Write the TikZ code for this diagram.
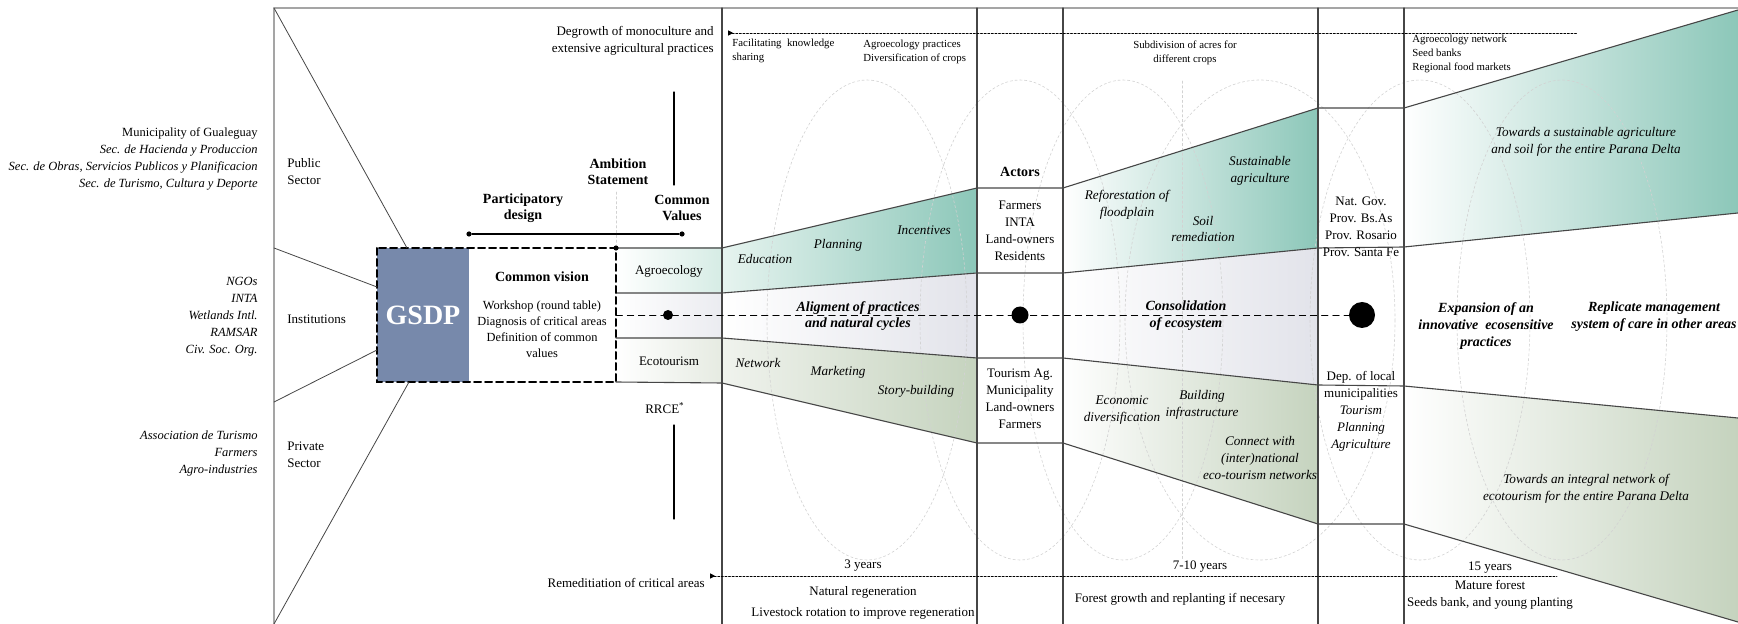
\documentclass[tikz,border=0pt]{standalone}
\usepackage{fontspec}
\setmainfont{Liberation Serif}
\usetikzlibrary{arrows.meta}

\definecolor{gsdpblue}{RGB}{119,137,171}
\definecolor{tealdeep}{RGB}{140,199,185}
\definecolor{tealsoft}{RGB}{214,236,229}
\definecolor{sagedeep}{RGB}{197,211,190}
\definecolor{sagesoft}{RGB}{230,235,226}
\definecolor{mist}{RGB}{226,227,234}
\definecolor{framegray}{RGB}{165,165,165}
\definecolor{rulegray}{RGB}{70,70,70}

\begin{document}
\begin{tikzpicture}[x=0.5pt, y=-0.5pt, line cap=round,
    txt/.style={font=\fontsize{6.5}{8.5}\selectfont, align=center, inner sep=0pt},
    txtit/.style={txt, font=\fontsize{6.6}{8.3}\selectfont\itshape},
    head/.style={txt, font=\fontsize{7}{8.2}\selectfont\bfseries},
    theme/.style={txt, font=\fontsize{7}{8.4}\selectfont\bfseries\itshape},
    note/.style={font=\fontsize{5.4}{7}\selectfont, align=left, inner sep=0pt},
    names/.style={txt, align=right, anchor=east, font=\fontsize{6.25}{8.5}\selectfont\itshape},
    rule/.style={rulegray, line width=0.55pt},
    sector/.style={rulegray, line width=0.4pt},
    loop/.style={gray!35, line width=0.3pt, dash pattern=on 1.2pt off 1.2pt},
    track/.style={black, line width=0.4pt, dash pattern=on 1pt off 0.8pt,
                  arrows={Triangle[reversed, length=2.6pt, width=2.6pt]-}},
    dot/.style={circle, fill=black, inner sep=0pt}]

  % pixel grid of the poster: x to the right, y downwards
  \useasboundingbox (0,0) rectangle (1738,624);

  % shaded fields (phase 1: 722-977, phase 2: 1063-1318, phase 3: 1404-1738)
  \shade[left color=white, right color=tealsoft]
    (616,248) rectangle (722,293);
  \shade[left color=white, right color=mist!70]
    (616,293) rectangle (722,338);
  \shade[left color=white, right color=sagesoft]
    (616,338) rectangle (722,382);

  \shade[left color=tealsoft!60, right color=tealdeep]
    (722,248) -- (977,188) -- (977,273) -- (722,293) -- cycle;
  \shade[left color=white, right color=mist]
    (722,293) -- (977,273) -- (977,358) -- (722,338) -- cycle;
  \shade[left color=sagesoft!60, right color=sagedeep]
    (722,338) -- (977,358) -- (977,443) -- (722,383) -- cycle;

  \shade[left color=white, right color=tealdeep]
    (1063,188) -- (1318,108) -- (1318,248) -- (1063,273) -- cycle;
  \shade[left color=white, right color=mist]
    (1063,273) -- (1318,248) -- (1318,385) -- (1063,358) -- cycle;
  \shade[left color=white, right color=sagedeep]
    (1063,358) -- (1318,385) -- (1318,524) -- (1063,443) -- cycle;

  \shade[left color=white, right color=tealdeep]
    (1404,108) -- (1738,10) -- (1738,213) -- (1404,247) -- cycle;
  \shade[left color=white, right color=sagedeep]
    (1404,386) -- (1738,418) -- (1738,622) -- (1404,524) -- cycle;

  % cycles
  \foreach \cx/\rx in {867/100, 1020/100, 1123/100, 1260/135, 1420/110, 1562/105}
    \draw[loop] (\cx,320) ellipse [x radius=\rx, y radius=240];
  \draw[loop] (1182,81) -- (1182,560);

  % frame and phase columns
  \coordinate (tl) at (274,8);
  \coordinate (bl) at (274,624);
  \draw[framegray, line width=0.7pt] (tl) -- (1738,8);
  \draw[framegray, line width=0.7pt] (tl) -- (bl);
  \foreach \x in {722, 977, 1063, 1318, 1404}
    \draw[rule] (\x,8) -- (\x,624);

  % band outlines
  \draw[rule] (616,248) -- (722,248) -- (977,188) -- (1063,188)
              -- (1318,108) -- (1404,108) -- (1738,10);
  \draw[rule] (616,293) -- (722,293) -- (977,273) -- (1063,273)
              -- (1318,248) -- (1404,247) -- (1738,213);
  \draw[rule] (616,338) -- (722,338) -- (977,358) -- (1063,358)
              -- (1318,385) -- (1404,386) -- (1738,418);
  \draw[rule] (616,382) -- (722,383) -- (977,443) -- (1063,443)
              -- (1318,524) -- (1404,524) -- (1738,622);

  % GSDP block
  \node[fill=gsdpblue, minimum width=46pt, minimum height=67pt, inner sep=0pt,
        text=white, font=\fontsize{14}{16}\selectfont\bfseries] (gsdp) at (423,315) {GSDP};
  \draw[line width=1pt, dash pattern=on 3.5pt off 2pt] (377,248) rectangle (616,382);

  % sector rays into the block
  \coordinate (s1) at (407,248);
  \coordinate (s2) at (377,287);
  \coordinate (s3) at (377,350);
  \coordinate (s4) at (409,382);
  \draw[sector] (tl) -- (s1);
  \draw[sector] (274,248) -- (s2);
  \draw[sector] (274,402) -- (s3);
  \draw[sector] (bl) -- (s4);

  % participatory design bar
  \node[dot, minimum size=2.6pt] (pa) at (469,234) {};
  \node[dot, minimum size=2.6pt] (pb) at (682,234) {};
  \draw[rule, black] (pa) -- (pb);
  \node[dot, minimum size=2.6pt] (c0) at (616,248) {};
  \draw[loop] (616,192) -- (c0);

  % RRCE stems
  \draw[black, line width=0.6pt] (674,92) -- (674,185);
  \draw[black, line width=0.6pt] (674,425) -- (674,519);

  % time line with milestones
  \node[dot, minimum size=5pt]   (d1) at (668,315)  {};
  \node[dot, minimum size=8.5pt] (d2) at (1020,315) {};
  \node[dot, minimum size=13pt]  (d3) at (1362,315) {};
  \coordinate (mstart) at (616,315);
  \draw[black, line width=0.4pt, dash pattern=on 3.2pt off 2.4pt] (mstart) -- (d3);

  % dotted tracks
  \draw[track] (728,33) -- (1577,33);
  \draw[track] (710,576) -- (1557,576);

  % stakeholders
  \node[names] (pubnames) at (258,159)
    {\upshape Municipality of Gualeguay\\ Sec. de Hacienda y Produccion\\
     Sec. de Obras, Servicios Publicos y Planificacion\\
     Sec. de Turismo, Cultura y Deporte};
  \node[names] (instnames) at (258,317)
    {NGOs\\ INTA\\ Wetlands Intl.\\ RAMSAR\\ Civ. Soc. Org.};
  \node[names] (privnames) at (258,453)
    {Association de Turismo\\ Farmers\\ Agro-industries};
  \node[txt, align=left, anchor=west] (public)  at (287,172) {Public\\Sector};
  \node[txt, anchor=west]             (inst)    at (287,319) {Institutions};
  \node[txt, align=left, anchor=west] (private) at (287,455) {Private\\Sector};

  % vision block
  \node[head] (vision) at (542,277) {Common vision};
  \node[txt, font=\fontsize{6.2}{8}\selectfont] (workshop) at (542,329)
    {Workshop (round table)\\Diagnosis of critical areas\\Definition of common\\values};
  \node[head] (ambition) at (618,172) {Ambition\\Statement};
  \node[head] (partic)   at (523,208) {Participatory\\design};
  \node[head] (values)   at (682,208) {Common\\Values};
  \node[txt] (agro) at (669,271) {Agroecology};
  \node[txt] (eco)  at (669,361) {Ecotourism};
  \node[txt] (rrce) at (665,408) {RRCE\textsuperscript{*}};
  \node[txt, align=right, anchor=east] (degrowth) at (714,41)
    {Degrowth of monoculture and\\extensive agricultural practices};
  \node[txt, anchor=east] (remed) at (705,583) {Remeditiation of critical areas};

  % phase 1
  \node[note, anchor=west] (facil) at (732,51) {Facilitating\ \ knowledge\\sharing};
  \node[note, anchor=west] (agroprac) at (863,52) {Agroecology practices\\Diversification of crops};
  \node[txtit] (educ)  at (765,259) {Education};
  \node[txtit] (plan)  at (838,245) {Planning};
  \node[txtit] (incen) at (924,230) {Incentives};
  \node[theme] (align) at (858,316) {Aligment of practices\\and natural cycles};
  \node[txtit] (netw)  at (758,363) {Network};
  \node[txtit] (mark)  at (838,372) {Marketing};
  \node[txtit] (story) at (916,391) {Story-building};
  \node[txt] (three)   at (863,566) {3 years};
  \node[txt] (natreg)  at (863,603) {Natural regeneration\\[2pt]Livestock rotation to improve regeneration};

  % actors column
  \node[head] (actors) at (1020,172) {Actors};
  \node[txt] (actagro) at (1020,231) {Farmers\\INTA\\Land-owners\\Residents};
  \node[txt] (acteco)  at (1020,399) {Tourism Ag.\\Municipality\\Land-owners\\Farmers};

  % phase 2
  \node[note, align=center] (subdiv) at (1185,53) {Subdivision of acres for\\different crops};
  \node[txtit] (refor)  at (1127,205) {Reforestation of\\floodplain};
  \node[txtit] (soil)   at (1203,229) {Soil\\remediation};
  \node[txtit] (sust)   at (1260,171) {Sustainable\\agriculture};
  \node[theme] (consol) at (1186,316) {Consolidation\\of ecosystem};
  \node[txtit] (econ)   at (1122,410) {Economic\\diversification};
  \node[txtit] (build)  at (1202,405) {Building\\infrastructure};
  \node[txtit] (connect) at (1260,458) {Connect with\\(inter)national\\eco-tourism networks};
  \node[txt] (seven)  at (1200,567) {7-10 years};
  \node[txt] (forest) at (1180,599) {Forest growth and replanting if necesary};

  % government column
  \node[txt] (natgov) at (1361,227) {Nat. Gov.\\Prov. Bs.As\\Prov. Rosario\\Prov. Santa Fe};
  \node[txt] (depmun) at (1361,411)
    {Dep. of local\\municipalities\\\textit{Tourism}\\\textit{Planning}\\\textit{Agriculture}};

  % phase 3
  \node[note, anchor=west, font=\fontsize{5.4}{6.8}\selectfont] (network) at (1412,54)
    {Agroecology network\\Seed banks\\Regional food markets};
  \node[txtit] (towagri) at (1586,142) {Towards a sustainable agriculture\\and soil for the entire Parana Delta};
  \node[theme] (expan)  at (1486,326) {Expansion of an\\innovative\ \ ecosensitive\\practices};
  \node[theme] (replic) at (1654,317) {Replicate management\\system of care in other areas};
  \node[txtit] (toweco) at (1586,489) {Towards an integral network of\\ecotourism for the entire Parana Delta};
  \node[txt] (fifteen) at (1490,568) {15 years};
  \node[txt] (mature)  at (1490,595) {Mature forest\\Seeds bank, and young planting};

\end{tikzpicture}
\end{document}
